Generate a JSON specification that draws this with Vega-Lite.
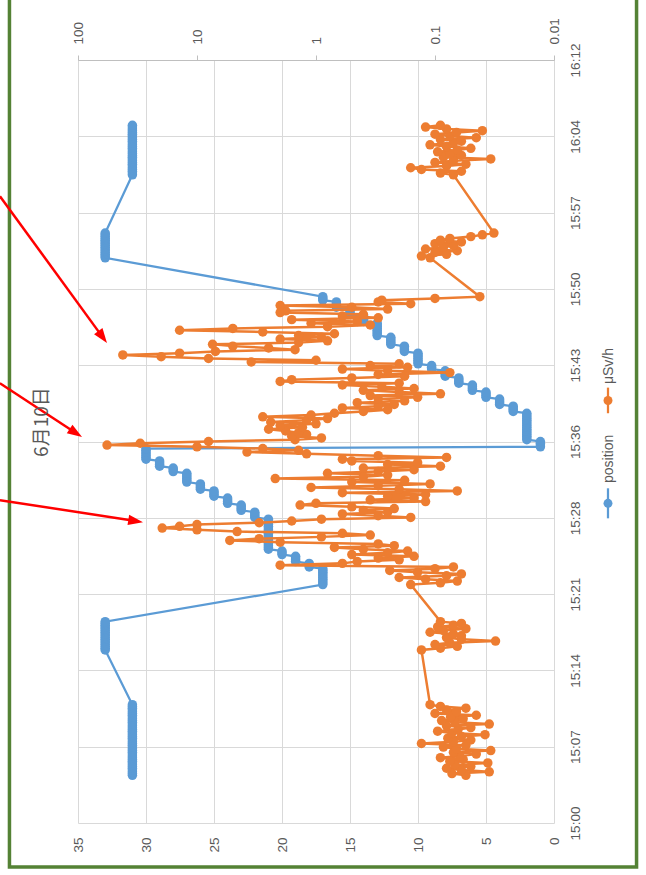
{
  "$schema": "https://vega.github.io/schema/vega-lite/v6.json",
  "width": 476,
  "height": 763,
  "autosize": {"type": "none"},
  "padding": {"left": 78, "top": 60, "right": 92, "bottom": 52},
  "background": "white",
  "config": {"view": {"stroke": null}, "font": "Liberation Sans"},
  "data": {"values": [
    {"s":270,"p":31,"d":0.055},{"s":280,"p":31,"d":0.072},{"s":290,"p":31,"d":0.035},{"s":300,"p":31,"d":0.06},{"s":310,"p":31,"d":0.08},{"s":320,"p":31,"d":0.05},{"s":330,"p":31,"d":0.068},{"s":340,"p":31,"d":0.036},{"s":350,"p":31,"d":0.075},{"s":360,"p":31,"d":0.058},{"s":370,"p":31,"d":0.09},{"s":380,"p":31,"d":0.062},{"s":390,"p":31,"d":0.045},{"s":400,"p":31,"d":0.07},{"s":410,"p":31,"d":0.034},{"s":420,"p":31,"d":0.066},{"s":430,"p":31,"d":0.085},{"s":440,"p":31,"d":0.055},{"s":450,"p":31,"d":0.13},{"s":460,"p":31,"d":0.07},{"s":470,"p":31,"d":0.05},{"s":480,"p":31,"d":0.078},{"s":490,"p":31,"d":0.06},{"s":500,"p":31,"d":0.038},{"s":510,"p":31,"d":0.072},{"s":520,"p":31,"d":0.095},{"s":530,"p":31,"d":0.064},{"s":540,"p":31,"d":0.05},{"s":550,"p":31,"d":0.08},{"s":560,"p":31,"d":0.035},{"s":570,"p":31,"d":0.068},{"s":580,"p":31,"d":0.088},{"s":590,"p":31,"d":0.058},{"s":600,"p":31,"d":0.074},{"s":610,"p":31,"d":0.045},{"s":620,"p":31,"d":0.1},{"s":630,"p":31,"d":0.066},{"s":640,"p":31,"d":0.08},{"s":650,"p":31,"d":0.055},{"s":660,"p":31,"d":0.09},{"s":670,"p":31,"d":0.11},
    {"s":980,"p":33,"d":0.13},{"s":990,"p":33,"d":0.09},{"s":1000,"p":33,"d":0.065},{"s":1010,"p":33,"d":0.1},{"s":1020,"p":33,"d":0.075},{"s":1030,"p":33,"d":0.031},{"s":1040,"p":33,"d":0.06},{"s":1050,"p":33,"d":0.08},{"s":1060,"p":33,"d":0.06},{"s":1070,"p":33,"d":0.07},{"s":1080,"p":33,"d":0.11},{"s":1090,"p":33,"d":0.085},{"s":1100,"p":33,"d":0.055},{"s":1110,"p":33,"d":0.095},{"s":1120,"p":33,"d":0.07},{"s":1130,"p":33,"d":0.06},{"s":1140,"p":33,"d":0.09},
    {"s":1350,"p":17,"d":0.16},{"s":1360,"p":17,"d":0.09},{"s":1370,"p":17,"d":0.065},{"s":1380,"p":17,"d":0.12},{"s":1390,"p":17,"d":0.2},{"s":1400,"p":17,"d":0.08},{"s":1410,"p":17,"d":0.06},{"s":1420,"p":17,"d":0.14},{"s":1430,"p":17,"d":0.24},{"s":1440,"p":17,"d":0.1},
    {"s":1450,"p":18,"d":0.07},{"s":1460,"p":18,"d":2.0},{"s":1470,"p":18,"d":0.6},
    {"s":1480,"p":19,"d":0.45},{"s":1490,"p":19,"d":0.2},{"s":1500,"p":19,"d":0.3},{"s":1510,"p":19,"d":0.15},
    {"s":1520,"p":20,"d":0.5},{"s":1530,"p":20,"d":0.25},{"s":1540,"p":20,"d":0.17},
    {"s":1550,"p":21,"d":0.4},{"s":1560,"p":21,"d":0.7},{"s":1570,"p":21,"d":0.22},{"s":1580,"p":21,"d":0.3},{"s":1590,"p":21,"d":2.0},{"s":1600,"p":21,"d":5.3},{"s":1610,"p":21,"d":3.0},{"s":1620,"p":21,"d":0.9},{"s":1630,"p":21,"d":0.35},{"s":1640,"p":21,"d":0.6},{"s":1650,"p":21,"d":4.6},{"s":1660,"p":21,"d":10},{"s":1670,"p":21,"d":19.6},{"s":1680,"p":21,"d":14},{"s":1690,"p":21,"d":10},{"s":1700,"p":21,"d":3},{"s":1710,"p":21,"d":1.6},{"s":1720,"p":21,"d":0.9},
    {"s":1730,"p":22,"d":0.16},{"s":1740,"p":22,"d":0.3},{"s":1750,"p":22,"d":0.6},{"s":1760,"p":22,"d":0.25},
    {"s":1770,"p":23,"d":0.4},{"s":1780,"p":23,"d":0.22},{"s":1790,"p":23,"d":0.5},{"s":1800,"p":23,"d":1.36},
    {"s":1810,"p":24,"d":1.0},{"s":1820,"p":24,"d":0.12},{"s":1830,"p":24,"d":0.35},{"s":1840,"p":24,"d":0.15},
    {"s":1850,"p":25,"d":0.25},{"s":1860,"p":25,"d":0.12},{"s":1870,"p":25,"d":0.6},{"s":1880,"p":25,"d":0.065},
    {"s":1890,"p":26,"d":0.2},{"s":1900,"p":26,"d":1.1},{"s":1910,"p":26,"d":0.3},{"s":1920,"p":26,"d":0.11},
    {"s":1930,"p":27,"d":0.5},{"s":1940,"p":27,"d":0.18},{"s":1950,"p":27,"d":2.2},{"s":1960,"p":27,"d":0.4},{"s":1970,"p":27,"d":0.25},{"s":1980,"p":27,"d":0.8},
    {"s":1990,"p":28,"d":0.3},{"s":2000,"p":28,"d":0.15},{"s":2010,"p":28,"d":0.4},
    {"s":2020,"p":29,"d":0.09},{"s":2030,"p":29,"d":0.25},{"s":2040,"p":29,"d":0.14},{"s":2050,"p":29,"d":0.5},
    {"s":2060,"p":30,"d":0.6},{"s":2070,"p":30,"d":0.08},{"s":2080,"p":30,"d":0.3},{"s":2090,"p":30,"d":1.2},{"s":2100,"p":30,"d":3.8},{"s":2110,"p":30,"d":1.4},{"s":2120,"p":30,"d":2.8},
    {"s":2130,"p":1,"d":10},{"s":2140,"p":1,"d":57},{"s":2150,"p":1,"d":30},{"s":2160,"p":1,"d":8},
    {"s":2170,"p":2,"d":1.5},{"s":2180,"p":2,"d":0.9},{"s":2190,"p":2,"d":1.6},{"s":2200,"p":2,"d":1.2},{"s":2210,"p":2,"d":1.4},{"s":2220,"p":2,"d":1.8},{"s":2230,"p":2,"d":2.5},{"s":2240,"p":2,"d":1.3},{"s":2250,"p":2,"d":2.0},{"s":2260,"p":2,"d":1.0},{"s":2270,"p":2,"d":2.4},{"s":2280,"p":2,"d":1.2},{"s":2290,"p":2,"d":0.8},{"s":2300,"p":2,"d":2.8},{"s":2310,"p":2,"d":1.1},{"s":2320,"p":2,"d":0.7},
    {"s":2330,"p":3,"d":0.4},{"s":2340,"p":3,"d":0.25},{"s":2350,"p":3,"d":0.6},{"s":2360,"p":3,"d":0.3},
    {"s":2370,"p":4,"d":0.22},{"s":2380,"p":4,"d":0.45},{"s":2390,"p":4,"d":0.18},{"s":2400,"p":4,"d":0.3},
    {"s":2410,"p":5,"d":0.14},{"s":2420,"p":5,"d":0.35},{"s":2430,"p":5,"d":0.09},{"s":2440,"p":5,"d":0.2},
    {"s":2450,"p":6,"d":0.4},{"s":2460,"p":6,"d":0.15},{"s":2470,"p":6,"d":0.28},{"s":2480,"p":6,"d":0.6},
    {"s":2490,"p":7,"d":0.2},{"s":2500,"p":7,"d":2.0},{"s":2510,"p":7,"d":1.6},{"s":2520,"p":7,"d":0.5},
    {"s":2530,"p":8,"d":0.18},{"s":2540,"p":8,"d":0.3},{"s":2550,"p":8,"d":0.075},{"s":2560,"p":8,"d":0.25},
    {"s":2570,"p":9,"d":0.6},{"s":2580,"p":9,"d":0.17},{"s":2590,"p":9,"d":0.35},
    {"s":2600,"p":10,"d":0.2},{"s":2610,"p":10,"d":3.5},{"s":2620,"p":10,"d":1.0},{"s":2630,"p":10,"d":8},{"s":2640,"p":10,"d":20},{"s":2650,"p":10,"d":42},{"s":2660,"p":10,"d":14},
    {"s":2670,"p":11,"d":7},{"s":2680,"p":11,"d":1.5},{"s":2690,"p":11,"d":2.5},{"s":2700,"p":11,"d":5},
    {"s":2710,"p":12,"d":7.4},{"s":2720,"p":12,"d":1.4},{"s":2730,"p":12,"d":0.8},{"s":2740,"p":12,"d":2},{"s":2750,"p":12,"d":0.9},
    {"s":2760,"p":13,"d":1.4},{"s":2770,"p":13,"d":0.7},{"s":2780,"p":13,"d":2.8},{"s":2790,"p":13,"d":14},{"s":2800,"p":13,"d":5},{"s":2810,"p":13,"d":0.8},{"s":2820,"p":13,"d":0.35},{"s":2830,"p":13,"d":1.1},
    {"s":2840,"p":14,"d":0.45},{"s":2850,"p":14,"d":1.6},{"s":2860,"p":14,"d":0.3},{"s":2870,"p":14,"d":0.6},
    {"s":2880,"p":15,"d":0.4},{"s":2890,"p":15,"d":2.0},{"s":2900,"p":15,"d":1.8},{"s":2910,"p":15,"d":0.25},
    {"s":2920,"p":16,"d":0.5},{"s":2930,"p":16,"d":2.0},{"s":2940,"p":16,"d":0.16},{"s":2950,"p":16,"d":0.3},
    {"s":2960,"p":17,"d":0.28},{"s":2970,"p":17,"d":0.1},{"s":2980,"p":17,"d":0.042},
    {"s":3200,"p":33,"d":0.11},{"s":3210,"p":33,"d":0.13},{"s":3220,"p":33,"d":0.08},{"s":3230,"p":33,"d":0.1},{"s":3240,"p":33,"d":0.065},{"s":3250,"p":33,"d":0.12},{"s":3260,"p":33,"d":0.085},{"s":3270,"p":33,"d":0.07},{"s":3280,"p":33,"d":0.1},{"s":3290,"p":33,"d":0.06},{"s":3300,"p":33,"d":0.09},{"s":3310,"p":33,"d":0.075},{"s":3320,"p":33,"d":0.05},{"s":3330,"p":33,"d":0.04},{"s":3340,"p":33,"d":0.032},
    {"s":3670,"p":31,"d":0.07},{"s":3680,"p":31,"d":0.09},{"s":3690,"p":31,"d":0.06},{"s":3700,"p":31,"d":0.13},{"s":3710,"p":31,"d":0.16},{"s":3720,"p":31,"d":0.08},{"s":3730,"p":31,"d":0.055},{"s":3740,"p":31,"d":0.1},{"s":3750,"p":31,"d":0.07},{"s":3760,"p":31,"d":0.034},{"s":3770,"p":31,"d":0.085},{"s":3780,"p":31,"d":0.06},{"s":3790,"p":31,"d":0.075},{"s":3800,"p":31,"d":0.095},{"s":3810,"p":31,"d":0.065},{"s":3820,"p":31,"d":0.05},{"s":3830,"p":31,"d":0.08},{"s":3840,"p":31,"d":0.11},{"s":3850,"p":31,"d":0.07},{"s":3860,"p":31,"d":0.06},{"s":3870,"p":31,"d":0.09},{"s":3880,"p":31,"d":0.045},{"s":3890,"p":31,"d":0.075},{"s":3900,"p":31,"d":0.1},{"s":3910,"p":31,"d":0.066},{"s":3920,"p":31,"d":0.04},{"s":3930,"p":31,"d":0.08},{"s":3940,"p":31,"d":0.12},{"s":3950,"p":31,"d":0.09}
  ]},
  "layer": [
    {
      "layer": [
        {
          "mark": {"type": "line", "color": "#5B9BD5", "strokeWidth": 2.25, "point": {"filled": true, "size": 90, "color": "#5B9BD5", "opacity": 1}},
          "encoding": {
            "x": {"field": "p", "type": "quantitative", "scale": {"domain": [0, 35], "reverse": true, "nice": false, "zero": false},
              "axis": {"orient": "bottom", "values": [0, 5, 10, 15, 20, 25, 30, 35], "grid": true, "gridColor": "#d9d9d9", "domain": false, "ticks": false, "labelAngle": -90, "labelAlign": "right", "labelBaseline": "middle", "labelPadding": 14, "labelFontSize": 13.5, "labelColor": "#595959", "labelFlush": false, "labelOverlap": false, "title": null}},
            "y": {"field": "s", "type": "quantitative", "scale": {"domain": [0, 4320], "nice": false, "zero": false},
              "axis": {"orient": "right", "values": [0, 432, 864, 1296, 1728, 2160, 2592, 3024, 3456, 3888, 4320], "labelExpr": "(15 + floor(datum.value / 3600)) + ':' + (floor((datum.value % 3600) / 60) < 10 ? '0' : '') + floor((datum.value % 3600) / 60)", "grid": true, "gridColor": "#d9d9d9", "domain": false, "ticks": false, "labelAngle": -90, "labelAlign": "center", "labelBaseline": "top", "labelPadding": 14, "labelFontSize": 13.5, "labelColor": "#595959", "labelFlush": false, "labelOverlap": false, "title": null}},
            "order": {"field": "s", "type": "quantitative"}
          }
        },
        {
          "data": {"values": [{}]},
          "mark": {"type": "rect", "fillOpacity": 0, "stroke": "#548235", "strokeWidth": 3.5},
          "encoding": {
            "x": {"datum": 40.04, "type": "quantitative", "scale": {"domain": [0, 35], "reverse": true, "nice": false, "zero": false}},
            "x2": {"datum": -6.07},
            "y": {"datum": -249, "type": "quantitative", "scale": {"domain": [0, 4320], "nice": false, "zero": false}},
            "y2": {"datum": 4800}
          }
        },
        {
          "data": {"values": [{}]},
          "mark": {"type": "rule", "color": "#FF0000", "strokeWidth": 2.5},
          "encoding": {
            "x": {"datum": 40.74, "type": "quantitative", "scale": {"domain": [0, 35], "reverse": true, "nice": false, "zero": false}},
            "x2": {"datum": 33.19},
            "y": {"datum": 3549, "type": "quantitative", "scale": {"domain": [0, 4320], "nice": false, "zero": false}},
            "y2": {"datum": 2751}
          }
        },
        {
          "data": {"values": [{}]},
          "mark": {"type": "point", "shape": "M0,-1L0.7,1L-0.7,1Z", "filled": true, "color": "#FF0000", "opacity": 1, "size": 220, "angle": 144},
          "encoding": {
            "x": {"datum": 33.19, "type": "quantitative", "scale": {"domain": [0, 35], "reverse": true, "nice": false, "zero": false}},
            "y": {"datum": 2751, "type": "quantitative", "scale": {"domain": [0, 4320], "nice": false, "zero": false}}
          }
        },
        {
          "data": {"values": [{}]},
          "mark": {"type": "rule", "color": "#FF0000", "strokeWidth": 2.5},
          "encoding": {
            "x": {"datum": 40.74, "type": "quantitative", "scale": {"domain": [0, 35], "reverse": true, "nice": false, "zero": false}},
            "x2": {"datum": 35.16},
            "y": {"datum": 2490, "type": "quantitative", "scale": {"domain": [0, 4320], "nice": false, "zero": false}},
            "y2": {"datum": 2208}
          }
        },
        {
          "data": {"values": [{}]},
          "mark": {"type": "point", "shape": "M0,-1L0.7,1L-0.7,1Z", "filled": true, "color": "#FF0000", "opacity": 1, "size": 220, "angle": 123},
          "encoding": {
            "x": {"datum": 35.16, "type": "quantitative", "scale": {"domain": [0, 35], "reverse": true, "nice": false, "zero": false}},
            "y": {"datum": 2208, "type": "quantitative", "scale": {"domain": [0, 4320], "nice": false, "zero": false}}
          }
        },
        {
          "data": {"values": [{}]},
          "mark": {"type": "rule", "color": "#FF0000", "strokeWidth": 2.5},
          "encoding": {
            "x": {"datum": 40.74, "type": "quantitative", "scale": {"domain": [0, 35], "reverse": true, "nice": false, "zero": false}},
            "x2": {"datum": 30.76},
            "y": {"datum": 1828, "type": "quantitative", "scale": {"domain": [0, 4320], "nice": false, "zero": false}},
            "y2": {"datum": 1710}
          }
        },
        {
          "data": {"values": [{}]},
          "mark": {"type": "point", "shape": "M0,-1L0.7,1L-0.7,1Z", "filled": true, "color": "#FF0000", "opacity": 1, "size": 220, "angle": 99},
          "encoding": {
            "x": {"datum": 30.76, "type": "quantitative", "scale": {"domain": [0, 35], "reverse": true, "nice": false, "zero": false}},
            "y": {"datum": 1710, "type": "quantitative", "scale": {"domain": [0, 4320], "nice": false, "zero": false}}
          }
        },
        {
          "data": {"values": [{}]},
          "mark": {"type": "text", "text": "6月10日", "angle": 270, "align": "center", "baseline": "middle", "font": "Noto Sans CJK JP", "fontSize": 19, "color": "#595959"},
          "encoding": {
            "x": {"datum": 37.65, "type": "quantitative", "scale": {"domain": [0, 35], "reverse": true, "nice": false, "zero": false}},
            "y": {"datum": 2270, "type": "quantitative", "scale": {"domain": [0, 4320], "nice": false, "zero": false}}
          }
        },
        {
          "data": {"values": [{}]},
          "mark": {"type": "rule", "color": "#5B9BD5", "strokeWidth": 2.25},
          "encoding": {
            "x": {"datum": -3.97, "type": "quantitative", "scale": {"domain": [0, 35], "reverse": true, "nice": false, "zero": false}},
            "y": {"datum": 1725, "type": "quantitative", "scale": {"domain": [0, 4320], "nice": false, "zero": false}},
            "y2": {"datum": 1895}
          }
        },
        {
          "data": {"values": [{}]},
          "mark": {"type": "point", "filled": true, "color": "#5B9BD5", "opacity": 1, "size": 80},
          "encoding": {
            "x": {"datum": -3.97, "type": "quantitative", "scale": {"domain": [0, 35], "reverse": true, "nice": false, "zero": false}},
            "y": {"datum": 1810, "type": "quantitative", "scale": {"domain": [0, 4320], "nice": false, "zero": false}}
          }
        },
        {
          "data": {"values": [{}]},
          "mark": {"type": "text", "text": "position", "angle": 270, "align": "left", "baseline": "middle", "fontSize": 14, "color": "#595959"},
          "encoding": {
            "x": {"datum": -4.04, "type": "quantitative", "scale": {"domain": [0, 35], "reverse": true, "nice": false, "zero": false}},
            "y": {"datum": 1925, "type": "quantitative", "scale": {"domain": [0, 4320], "nice": false, "zero": false}}
          }
        },
        {
          "data": {"values": [{}]},
          "mark": {"type": "rule", "color": "#ED7D31", "strokeWidth": 2.25},
          "encoding": {
            "x": {"datum": -3.97, "type": "quantitative", "scale": {"domain": [0, 35], "reverse": true, "nice": false, "zero": false}},
            "y": {"datum": 2320, "type": "quantitative", "scale": {"domain": [0, 4320], "nice": false, "zero": false}},
            "y2": {"datum": 2465}
          }
        },
        {
          "data": {"values": [{}]},
          "mark": {"type": "point", "filled": true, "color": "#ED7D31", "opacity": 1, "size": 80},
          "encoding": {
            "x": {"datum": -3.97, "type": "quantitative", "scale": {"domain": [0, 35], "reverse": true, "nice": false, "zero": false}},
            "y": {"datum": 2392, "type": "quantitative", "scale": {"domain": [0, 4320], "nice": false, "zero": false}}
          }
        },
        {
          "data": {"values": [{}]},
          "mark": {"type": "text", "text": "μSv/h", "angle": 270, "align": "left", "baseline": "middle", "fontSize": 14, "color": "#595959"},
          "encoding": {
            "x": {"datum": -4.04, "type": "quantitative", "scale": {"domain": [0, 35], "reverse": true, "nice": false, "zero": false}},
            "y": {"datum": 2485, "type": "quantitative", "scale": {"domain": [0, 4320], "nice": false, "zero": false}}
          }
        }
      ]
    },
    {
      "mark": {"type": "line", "color": "#ED7D31", "strokeWidth": 2.5, "point": {"filled": true, "size": 90, "color": "#ED7D31", "opacity": 1}},
      "encoding": {
        "x": {"field": "d", "type": "quantitative", "scale": {"type": "log", "domain": [0.01, 100], "reverse": true, "nice": false},
          "axis": {"orient": "top", "values": [0.01, 0.1, 1, 10, 100], "labelExpr": "datum.value + ''", "grid": false, "domain": true, "domainColor": "#bfbfbf", "ticks": true, "tickColor": "#bfbfbf", "tickSize": 5, "labelAngle": -90, "labelAlign": "left", "labelBaseline": "middle", "labelPadding": 11, "labelFontSize": 13.5, "labelColor": "#595959", "labelFlush": false, "labelOverlap": false, "title": null}},
        "y": {"field": "s", "type": "quantitative", "scale": {"domain": [0, 4320], "nice": false, "zero": false}},
        "order": {"field": "s", "type": "quantitative"}
      }
    }
  ],
  "resolve": {"scale": {"x": "independent"}}
}
